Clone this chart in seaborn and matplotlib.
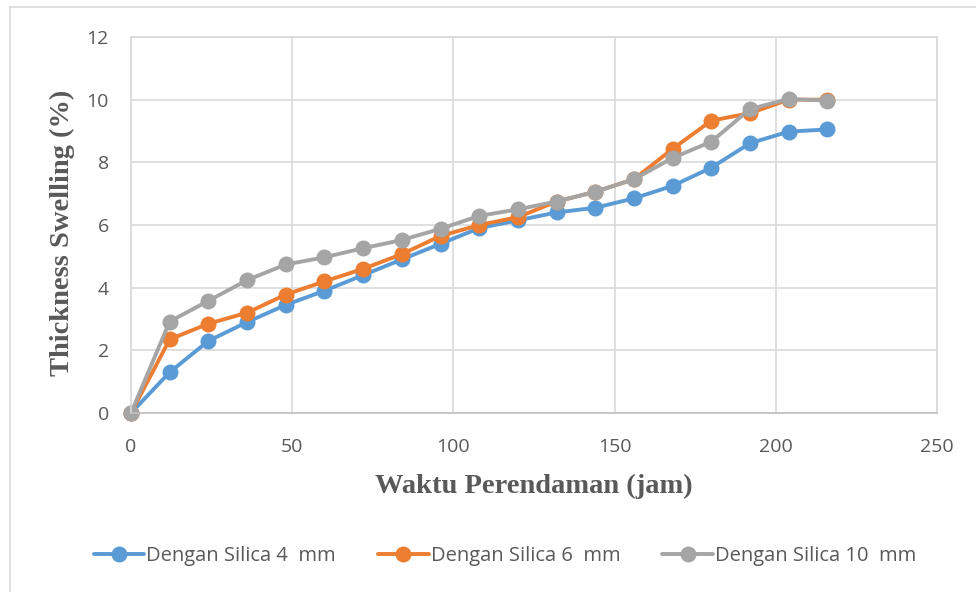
import numpy as np
import pandas as pd
import matplotlib
matplotlib.use("Agg")
import matplotlib.pyplot as plt
import seaborn as sns
from matplotlib.patches import Rectangle

# Soaking time (hours)
waktu = [0, 12, 24, 36, 48, 60, 72, 84, 96, 108, 120, 132, 144, 156, 168, 180, 192, 204, 216]

# Thickness swelling (%) per silica size
silica_4mm = [0, 1.3, 2.3, 2.9, 3.45, 3.9, 4.4, 4.9, 5.4, 5.9, 6.15, 6.4, 6.55, 6.85, 7.25, 7.83, 8.61, 8.98, 9.05]
silica_6mm = [0, 2.35, 2.85, 3.2, 3.78, 4.2, 4.6, 5.07, 5.65, 6.0, 6.25, 6.75, 7.06, 7.46, 8.43, 9.33, 9.57, 10.0, 10.0]
silica_10mm = [0, 2.92, 3.58, 4.24, 4.74, 4.97, 5.26, 5.52, 5.88, 6.29, 6.5, 6.75, 7.06, 7.46, 8.14, 8.66, 9.7, 10.02, 9.97]

series_names = ["Dengan Silica 4  mm", "Dengan Silica 6  mm", "Dengan Silica 10  mm"]
series_colors = ["#5B9BD5", "#ED7D31", "#A5A5A5"]

df = pd.concat([
    pd.DataFrame({"waktu": waktu, "swelling": vals, "seri": name})
    for name, vals in zip(series_names, [silica_4mm, silica_6mm, silica_10mm])
], ignore_index=True)

sns.set_theme(style="white")
plt.rcParams["font.family"] = ["Open Sans", "DejaVu Sans"]

fig = plt.figure(figsize=(9.76, 5.92), dpi=100)
ax = fig.add_axes([131 / 976, 1 - 413 / 592, (937 - 131) / 976, (413 - 37) / 592])

# outer chart border
fig.patches.append(Rectangle((10 / 976, -0.05), 1.1, 1 - 7 / 592 + 0.05,
                             transform=fig.transFigure, fill=False,
                             edgecolor="#d9d9d9", linewidth=1.2, zorder=0))

sns.lineplot(data=df, x="waktu", y="swelling", hue="seri", hue_order=series_names,
             palette=series_colors, marker="o", markersize=11.5, markeredgewidth=0,
             linewidth=2.8, ax=ax, legend=False, sort=False)

ax.set_xlim(0, 250)
ax.set_ylim(0, 12)
ax.set_xticks(np.arange(0, 251, 50))
ax.set_yticks(np.arange(0, 13, 2))
ax.grid(True, color="#d9d9d9", linewidth=1.2)
ax.set_axisbelow(True)
for side in ["top", "right", "left", "bottom"]:
    ax.spines[side].set_color("#d9d9d9")
    ax.spines[side].set_linewidth(1.2)
ax.spines["bottom"].set_color("#bfbfbf")
for line in ax.lines:
    line.set_clip_on(False)

ax.tick_params(axis="both", labelsize=14, colors="#595959", length=0)
ax.tick_params(axis="x", pad=18)
ax.tick_params(axis="y", pad=16)

label_font = dict(family=["Liberation Serif", "DejaVu Serif"], weight="bold",
                  size=20.5, color="#595959")
ax.set_xlabel("Waktu Perendaman (jam)", **label_font)
ax.set_ylabel("Thickness Swelling (%)", **label_font)
ax.xaxis.set_label_coords(0.5, (413 - 486) / 376)
ax.yaxis.set_label_coords((62 - 131) / 806, (413 - 233) / 376)
ax.xaxis.label.set_va("center")
ax.yaxis.label.set_va("center")

handles = [plt.Line2D([], [], color=c, marker="o", markersize=11.5, markeredgewidth=0,
                      linewidth=2.8) for c in series_colors]
fig.legend(handles, series_names, loc="center", bbox_to_anchor=(505 / 976, 1 - 556 / 592),
           ncol=3, frameon=False, fontsize=14.5, labelcolor="#595959",
           handlelength=2.5, handletextpad=0.1, columnspacing=2.1)

fig.savefig("out.png", dpi=100)
